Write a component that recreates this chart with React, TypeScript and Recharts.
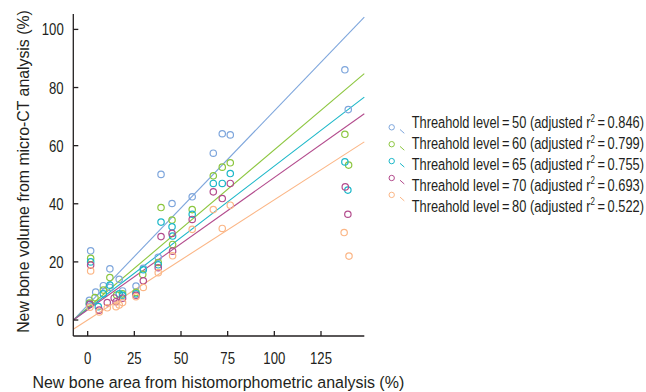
import React from 'react';
import { ScatterChart, Scatter, XAxis, YAxis, ReferenceLine, Legend, Label } from 'recharts';

const FONT = '"Liberation Sans", Arial, Helvetica, sans-serif';
const INK = '#231f20';

const xTicks = [0, 25, 50, 75, 100, 125];
const yTicks = [0, 20, 40, 60, 80, 100];
const xDomain = [-7.7, 148.2];
const yDomain = [-5.5, 105.3];

const thresholds = ['50', '60', '65', '70', '80'];
const r2Values = ['0.846', '0.799', '0.755', '0.693', '0.522'];
const colors = ['#7ea6dc', '#8cc63f', '#1ab7c8', '#b34c8d', '#fbb686'];

// [histomorphometric %, micro-CT %]
const level50 = [
  [1.6, 23.8], [0.9, 6.8], [4.3, 9.6], [8.4, 11.8], [11.9, 17.6], [11.9, 11.2], [16.9, 14.0],
  [18.7, 10.0], [25.9, 11.7], [29.8, 17.8], [37.8, 21.6], [39.3, 50.1], [45.2, 40.1], [56.0, 42.4],
  [67.3, 57.4], [72.1, 64.1], [76.4, 63.7], [137.8, 86.1], [139.6, 72.4],
];
const level60 = [
  [1.6, 21.2], [0.9, 5.8], [3.9, 7.7], [8.4, 10.3], [11.9, 14.6], [15.5, 8.6], [18.7, 9.0],
  [25.9, 9.5], [29.5, 15.7], [37.8, 19.8], [39.3, 38.7], [45.2, 34.4], [45.5, 26.0], [56.0, 38.0],
  [67.3, 49.6], [72.1, 52.6], [76.4, 54.1], [137.8, 63.9], [139.8, 53.3],
];
const level65 = [
  [1.6, 20.0], [0.9, 5.4], [5.7, 4.6], [8.4, 9.0], [11.9, 12.0], [16.9, 9.0], [18.7, 8.5],
  [25.9, 9.0], [29.8, 17.3], [37.8, 19.0], [39.3, 33.7], [45.2, 32.1], [45.5, 28.9], [56.0, 36.4],
  [67.3, 47.0], [72.1, 47.0], [76.4, 50.4], [137.8, 54.4], [139.4, 44.7],
];
const level70 = [
  [1.6, 18.9], [1.2, 5.4], [6.2, 3.4], [10.5, 6.0], [14.2, 7.6], [15.2, 6.3], [18.7, 7.5],
  [25.9, 8.5], [29.8, 13.5], [37.8, 18.0], [39.3, 28.7], [45.2, 29.8], [45.5, 23.7], [56.0, 34.6],
  [67.3, 44.1], [72.1, 41.8], [76.4, 47.0], [138.0, 45.8], [139.4, 36.4],
];
const level80 = [
  [1.6, 16.9], [1.2, 4.4], [6.2, 2.8], [10.5, 4.2], [15.2, 4.6], [16.9, 5.2], [18.7, 6.0],
  [25.9, 8.0], [29.8, 11.2], [37.8, 16.3], [45.5, 22.1], [56.0, 31.2],
  [67.3, 38.0], [72.1, 31.5], [76.4, 39.5], [137.4, 30.1], [140.0, 22.0],
];
const allLevels = [level50, level60, level65, level70, level80];

// fitted regression lines: value at left and right edge of the x range
const fitStartY = [0, 0, 0, 0, -3.2];
const fitEndY = [104.2, 84.8, 76.7, 71.0, 61.3];

const NUM_SCALE = 0.775;

const XTick = (props: any) => {
  const { x, y, payload } = props;
  return (
    <g>
      <line x1={x} x2={x} y1={y} y2={y - 5} stroke={INK} strokeWidth={1.3} />
      <text transform={`translate(${x},${y + 27.5}) scale(${NUM_SCALE},1)`} x={0} y={0}
        textAnchor="middle" fontSize={17} fontFamily={FONT} fill={INK}>{payload.value}</text>
    </g>
  );
};

const YTick = (props: any) => {
  const { x, y, payload } = props;
  return (
    <g>
      <line x1={x} x2={x + 5} y1={y} y2={y} stroke={INK} strokeWidth={1.3} />
      <text transform={`translate(${x - 9.6},${y + 6}) scale(${NUM_SCALE},1)`} x={0} y={0}
        textAnchor="end" fontSize={17} fontFamily={FONT} fill={INK}>{payload.value}</text>
    </g>
  );
};

const LegendContent = () => (
  <svg width={266} height={112} style={{ overflow: 'visible' }}>
    {thresholds.map((t, i) => {
      const cx = 11.7;
      const cy = 17.3 + i * 16.9;
      const ty = 18.3 + i * 20.8;
      return (
        <g key={t}>
          <circle cx={cx} cy={cy} r={2.7} fill="none" stroke={colors[i]} strokeWidth={1} />
          <line x1={cx + 8.3} y1={cy + 2.2} x2={cx + 12.6} y2={cy + 6} stroke={colors[i]} strokeWidth={1} />
          <text transform={`translate(31.7,${ty}) scale(0.756,1)`} x={0} y={0}
            fontSize={17} fontFamily={FONT} fill={INK}>
            {`Threahold level\u2009=\u2009${t} (adjusted r`}
            <tspan dy={-6.5} fontSize={10.5}>2</tspan>
            <tspan dy={6.5}>{`\u2009=\u2009${r2Values[i]})`}</tspan>
          </text>
        </g>
      );
    })}
  </svg>
);

const dot = (color: string) => (p: any) => (
  <circle cx={p.cx} cy={p.cy} r={3.2} fill="none" stroke={color} strokeWidth={1.2} />
);

export default function App() {
  return (
    <div style={{ position: 'absolute', left: 0, top: 0, width: 646, height: 392, background: '#fff' }}>
      <ScatterChart width={646} height={392} margin={{ top: 14, right: 281.7, bottom: 0, left: 0 }}>
        <XAxis type="number" dataKey="x" domain={xDomain} ticks={xTicks} allowDataOverflow
          height={56} tickSize={0} tickMargin={0} tickLine={false} tick={XTick}
          axisLine={{ stroke: INK, strokeWidth: 1.3 }} interval={0}>
          <Label content={() => (
            <text transform="translate(218.3,388.3) scale(0.94,1)" x={0} y={0} textAnchor="middle"
              fontSize={17} fontFamily={FONT} fill={INK}>New bone area from histomorphometric analysis (%)</text>
          )} />
        </XAxis>
        <YAxis type="number" dataKey="y" domain={yDomain} ticks={yTicks} allowDataOverflow
          width={73.3} tickSize={0} tickMargin={0} tickLine={false} tick={YTick}
          axisLine={{ stroke: INK, strokeWidth: 1.3 }} interval={0}>
          <Label content={() => (
            <text transform="translate(29,171.5) rotate(-90) scale(0.932,1)" x={0} y={0} textAnchor="middle"
              fontSize={17} fontFamily={FONT} fill={INK}>New bone volume from micro-CT analysis (%)</text>
          )} />
        </YAxis>
        {allLevels.map((lv, i) => (
          <Scatter key={thresholds[i]} name={thresholds[i]} data={lv.map(([x, y]) => ({ x, y }))}
            shape={dot(colors[i])} isAnimationActive={false} />
        ))}
        {thresholds.map((t, i) => (
          <ReferenceLine key={'fit' + t} ifOverflow="visible"
            segment={[{ x: xDomain[0], y: fitStartY[i] }, { x: xDomain[1], y: fitEndY[i] }]}
            stroke={colors[i]} strokeWidth={1.1} />
        ))}
        <Legend layout="vertical" align="center" verticalAlign="middle" content={LegendContent}
          wrapperStyle={{ left: 380, top: 110, width: 266, height: 112 }} />
      </ScatterChart>
    </div>
  );
}
